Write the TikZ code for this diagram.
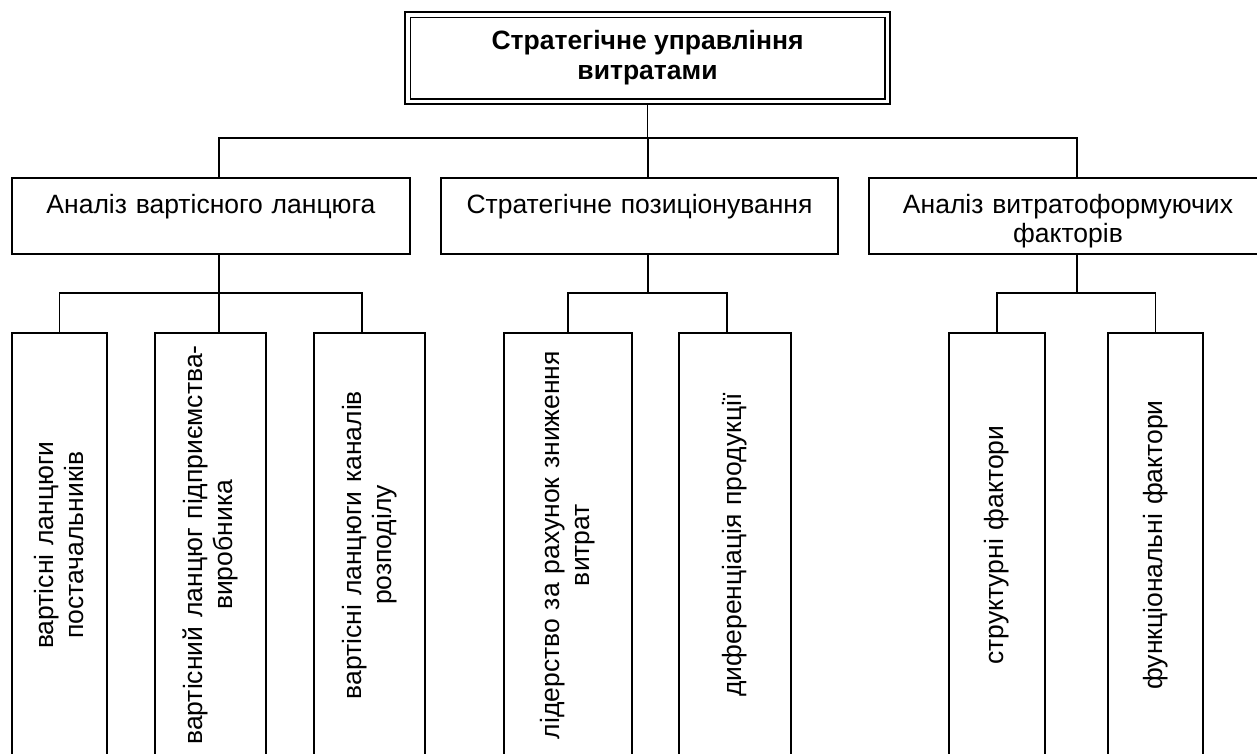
\documentclass[tikz,border=0pt]{standalone}
\usepackage{fontspec}
\setmainfont{Liberation Sans}
\begin{document}
\begin{tikzpicture}[x=1pt, y=-1pt,
    topbox/.style={draw, line width=2.5pt, minimum width=485pt, minimum height=92pt, inner sep=0pt, align=center, font=\fontsize{26.5}{30}\selectfont\bfseries},
    midbox/.style={draw, line width=1.5pt, text width=#1, inner sep=0pt, text height=35pt, text depth=41pt, align=center, font=\fontsize{26.5}{29}\selectfont},
    leafbox/.style={draw, line width=1.5pt, rotate=90, text width=424pt, minimum height=#1, inner sep=0pt, align=center, font=\fontsize{26.5}{30}\selectfont},
    link/.style={line width=1.5pt}]
    \useasboundingbox (0,0) rectangle (1257,754);
    \clip (0,0) rectangle (1257,754);
    % top
    \node[topbox] (top) at (647.5,58) {Стратегічне управління\\витратами};
    \draw[line width=1.5pt] ([xshift=6.5pt,yshift=-7pt]top.north west) rectangle ([xshift=-6.5pt,yshift=6pt]top.south east);
    % second level
    \node[midbox=398pt] (va) at (211,216) {Аналіз вартісного ланцюга\\\strut};
    \node[midbox=397pt] (vb) at (639.5,216) {Стратегічне позиціонування\\\strut};
    \node[midbox=398pt] (vc) at (1068,216) {Аналіз витратоформуючих\\факторів};
    % third level
    \node[leafbox=95pt] (ca) at (59.5,545) {вартісні ланцюги\\постачальників};
    \node[leafbox=111pt] (cb) at (210.5,545) {вартісний ланцюг підприємства-\\виробника};
    \node[leafbox=111pt] (cc) at (369.5,545) {вартісні ланцюги каналів\\розподілу};
    \node[leafbox=128pt] (cd) at (568,545) {лідерство за рахунок зниження\\витрат};
    \node[leafbox=112pt] (ce) at (735,545) {диференціація продукції};
    \node[leafbox=96pt] (cf) at (997,545) {структурні фактори};
    \node[leafbox=95pt] (cg) at (1155.5,545) {функціональні фактори};
    % buses
    \coordinate (bus0) at (647.5,138);
    \coordinate (busA) at (219,293);
    \coordinate (busB) at (648,293);
    \coordinate (busC) at (1077,293);
    \draw[link] (top.south) -- (bus0);
    \draw[link] ([xshift=8pt]va.north) |- (bus0);
    \draw[link] ([xshift=8.5pt]vb.north) |- (bus0);
    \draw[link] ([xshift=9pt]vc.north) |- (bus0);
    \draw[link] ([xshift=8pt]va.south) -- (busA);
    \draw[link] (ca.east) |- (busA);
    \draw[link] ([xshift=8.5pt]cb.east) -- (busA);
    \draw[link] ([xshift=-7.5pt]cc.east) |- (busA);
    \draw[link] ([xshift=8.5pt]vb.south) -- (busB);
    \draw[link] (cd.east) |- (busB);
    \draw[link] ([xshift=-8pt]ce.east) |- (busB);
    \draw[link] ([xshift=9pt]vc.south) -- (busC);
    \draw[link] (cf.east) |- (busC);
    \draw[link] (cg.east) |- (busC);
\end{tikzpicture}
\end{document}
